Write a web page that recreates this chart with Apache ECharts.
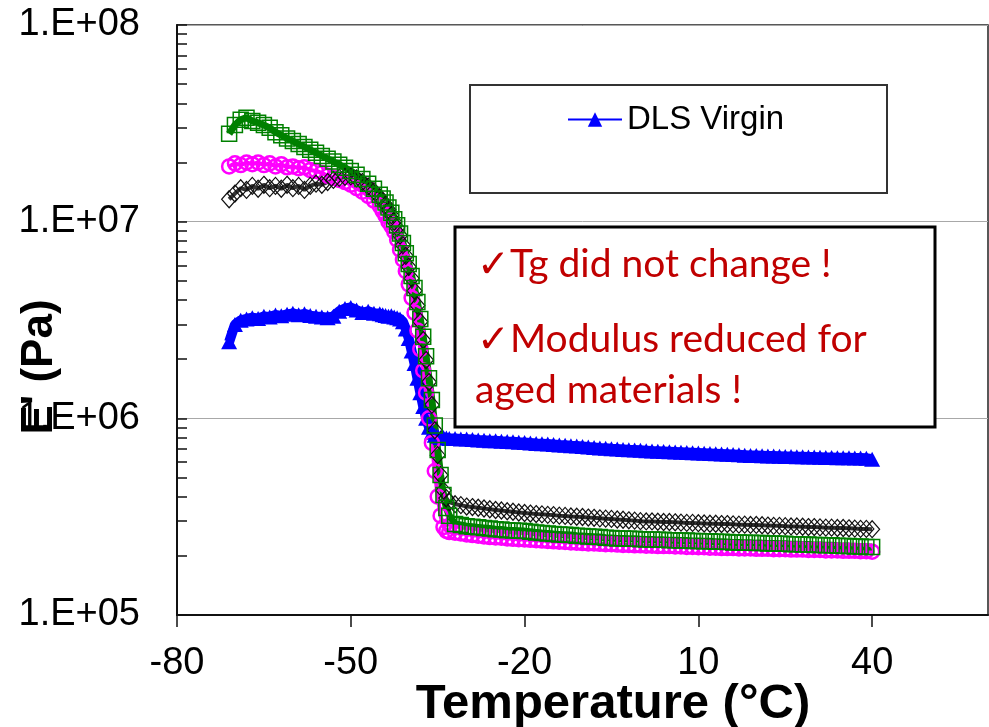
<!DOCTYPE html>
<html>
<head>
<meta charset="utf-8">
<script src="https://cdn.jsdelivr.net/npm/echarts@6/dist/echarts.min.js"></script>
<style>
  html, body { margin: 0; padding: 0; background: #fff; }
  #main { width: 989px; height: 727px; }
</style>
</head>
<body>
<div id="main"></div>
<script>
// ---------------- DATA ----------------
// Temperature (°C) sampling points shared by all series
const temps = [
  -71,-70,-69,-68,-67,-66,-65,-64,-63,-62,
  -61,-60,-59,-58,-57,-56,-55,-54,-53,-52,
  -51,-50,-49,-48,-47,-46,-45,
  -44.5,-44,-43.5,-43,-42.5,-42,-41.5,-41,-40.5,-40,
  -39.5,-39,-38.5,-38,-37.5,-37,-36.5,-36,-35.5,-35,
  -34.5,-34,-33.5,-33,
  -32,-31,-30,-29,-28,-27,-26,-25,-24,-23,
  -22,-21,-20,-19,-18,-17,-16,-15,-14,-13,
  -12,-11,-10,-9,-8,-7,-6,-5,-4,-3,
  -2,-1,0,1,2,3,4,5,6,7,
  8,9,10,11,12,13,14,15,16,17,
  18,19,20,21,22,23,24,25,26,27,
  28,29,30,31,32,33,34,35,36,37,
  38,39,40
];

// E' (Pa) – DLS Virgin (blue triangles)
const dlsVirgin = [
  2.45e6,3.0e6,3.15e6,3.2e6,3.25e6,3.22e6,3.3e6,3.28e6,3.35e6,3.32e6,
  3.38e6,3.42e6,3.36e6,3.4e6,3.33e6,3.3e6,3.28e6,3.25e6,3.3e6,3.5e6,
  3.62e6,3.66e6,3.55e6,3.45e6,3.5e6,3.42e6,3.4e6,
  3.36e6,3.33e6,3.3e6,3.32e6,3.28e6,3.25e6,3.2e6,3.1e6,2.85e6,2.55e6,
  2.2e6,1.9e6,1.6e6,1.35e6,1.15e6,1.0e6,9.0e5,8.5e5,8.2e5,8.1e5,
  8.0e5,8.0e5,7.95e5,7.9e5,
  7.9e5,7.86e5,7.84e5,7.8e5,7.76e5,7.74e5,7.7e5,7.69e5,7.65e5,7.62e5,
  7.6e5,7.55e5,7.53e5,7.5e5,7.45e5,7.43e5,7.4e5,7.36e5,7.32e5,7.3e5,
  7.25e5,7.23e5,7.2e5,7.15e5,7.11e5,7.06e5,7.05e5,7.0e5,6.98e5,6.95e5,
  6.92e5,6.9e5,6.88e5,6.85e5,6.82e5,6.8e5,6.78e5,6.76e5,6.74e5,6.72e5,
  6.7e5,6.68e5,6.66e5,6.64e5,6.62e5,6.6e5,6.58e5,6.56e5,6.54e5,6.52e5,
  6.5e5,6.48e5,6.47e5,6.46e5,6.44e5,6.43e5,6.42e5,6.4e5,6.39e5,6.38e5,
  6.37e5,6.36e5,6.35e5,6.34e5,6.33e5,6.32e5,6.31e5,6.3e5,6.3e5,6.29e5,
  6.28e5,6.27e5,6.2e5
];

// Aged sample (magenta circles)
const agedMagenta = [
  1.91e7,1.98e7,1.94e7,2.0e7,1.96e7,2.0e7,1.94e7,1.98e7,1.91e7,1.96e7,
  1.89e7,1.91e7,1.87e7,1.89e7,1.83e7,1.81e7,1.77e7,1.71e7,1.67e7,1.63e7,
  1.59e7,1.54e7,1.48e7,1.42e7,1.35e7,1.28e7,1.2e7,
  1.13e7,1.07e7,1.0e7,9.5e6,8.9e6,8.1e6,7.2e6,6.4e6,5.6e6,4.8e6,
  4.1e6,3.45e6,2.8e6,2.25e6,1.75e6,1.35e6,1.0e6,7.5e5,5.4e5,4.0e5,
  3.2e5,2.8e5,2.68e5,2.64e5,
  2.62e5,2.6e5,2.57e5,2.55e5,2.53e5,2.51e5,2.49e5,2.48e5,2.47e5,2.45e5,
  2.44e5,2.43e5,2.42e5,2.41e5,2.4e5,2.39e5,2.38e5,2.37e5,2.36e5,2.35e5,
  2.34e5,2.33e5,2.32e5,2.31e5,2.31e5,2.3e5,2.29e5,2.29e5,2.28e5,2.27e5,
  2.27e5,2.26e5,2.26e5,2.25e5,2.25e5,2.24e5,2.24e5,2.24e5,2.23e5,2.23e5,
  2.22e5,2.22e5,2.21e5,2.21e5,2.2e5,2.2e5,2.19e5,2.19e5,2.19e5,2.18e5,
  2.18e5,2.18e5,2.17e5,2.17e5,2.17e5,2.16e5,2.16e5,2.16e5,2.15e5,2.15e5,
  2.15e5,2.14e5,2.14e5,2.14e5,2.13e5,2.13e5,2.13e5,2.12e5,2.12e5,2.12e5,
  2.11e5,2.11e5,2.1e5
];

// Aged sample (black diamonds)
const agedBlack = [
  1.3e7,1.39e7,1.48e7,1.45e7,1.52e7,1.47e7,1.54e7,1.48e7,1.52e7,1.47e7,
  1.54e7,1.48e7,1.52e7,1.45e7,1.52e7,1.56e7,1.54e7,1.59e7,1.63e7,1.67e7,
  1.69e7,1.7e7,1.66e7,1.59e7,1.51e7,1.43e7,1.33e7,
  1.27e7,1.22e7,1.15e7,1.08e7,1.0e7,9.3e6,8.5e6,7.6e6,6.7e6,5.9e6,
  5.15e6,4.45e6,3.75e6,3.1e6,2.5e6,1.98e6,1.53e6,1.17e6,8.7e5,6.5e5,
  5.15e5,4.3e5,3.93e5,3.75e5,
  3.66e5,3.62e5,3.56e5,3.54e5,3.51e5,3.48e5,3.45e5,3.42e5,3.4e5,3.37e5,
  3.35e5,3.32e5,3.3e5,3.28e5,3.26e5,3.25e5,3.23e5,3.22e5,3.2e5,3.19e5,
  3.17e5,3.16e5,3.15e5,3.13e5,3.12e5,3.1e5,3.09e5,3.08e5,3.06e5,3.05e5,
  3.03e5,3.02e5,3.0e5,2.99e5,2.99e5,2.98e5,2.97e5,2.97e5,2.96e5,2.95e5,
  2.94e5,2.94e5,2.93e5,2.92e5,2.91e5,2.91e5,2.9e5,2.9e5,2.89e5,2.88e5,
  2.88e5,2.87e5,2.87e5,2.86e5,2.85e5,2.84e5,2.84e5,2.83e5,2.82e5,2.82e5,
  2.81e5,2.8e5,2.8e5,2.79e5,2.78e5,2.78e5,2.77e5,2.77e5,2.76e5,2.75e5,
  2.74e5,2.74e5,2.73e5
];

// Aged sample (green squares)
const agedGreen = [
  2.8e7,3.1e7,3.3e7,3.38e7,3.25e7,3.18e7,3.1e7,3.0e7,2.85e7,2.75e7,
  2.65e7,2.57e7,2.48e7,2.4e7,2.32e7,2.24e7,2.16e7,2.09e7,2.02e7,1.95e7,
  1.88e7,1.81e7,1.73e7,1.65e7,1.56e7,1.47e7,1.37e7,
  1.31e7,1.25e7,1.18e7,1.11e7,1.03e7,9.6e6,8.7e6,7.8e6,6.9e6,6.1e6,
  5.3e6,4.6e6,3.9e6,3.2e6,2.6e6,2.07e6,1.6e6,1.24e6,9.2e5,6.9e5,
  5.15e5,4.07e5,3.5e5,3.2e5,
  2.9e5,2.87e5,2.83e5,2.81e5,2.79e5,2.77e5,2.75e5,2.73e5,2.72e5,2.7e5,
  2.69e5,2.68e5,2.67e5,2.65e5,2.63e5,2.61e5,2.6e5,2.58e5,2.57e5,2.56e5,
  2.55e5,2.53e5,2.52e5,2.51e5,2.5e5,2.49e5,2.47e5,2.46e5,2.45e5,2.45e5,
  2.44e5,2.44e5,2.43e5,2.42e5,2.42e5,2.41e5,2.41e5,2.4e5,2.4e5,2.39e5,
  2.39e5,2.38e5,2.38e5,2.37e5,2.37e5,2.36e5,2.36e5,2.35e5,2.34e5,2.34e5,
  2.33e5,2.33e5,2.32e5,2.32e5,2.31e5,2.31e5,2.3e5,2.3e5,2.29e5,2.29e5,
  2.28e5,2.28e5,2.27e5,2.27e5,2.26e5,2.26e5,2.25e5,2.24e5,2.24e5,2.23e5,
  2.23e5,2.22e5,2.22e5
];

// Axis ticks / labels
const xTickValues = [-80, -50, -20, 10, 40];
const yTickValues = [1e5, 1e6, 1e7, 1e8];
const yTickLabels = ['1.E+05', '1.E+06', '1.E+07', '1.E+08'];
const yAllTicks = [
  1e5,2e5,3e5,4e5,5e5,6e5,7e5,8e5,9e5,
  1e6,2e6,3e6,4e6,5e6,6e6,7e6,8e6,9e6,
  1e7,2e7,3e7,4e7,5e7,6e7,7e7,8e7,9e7,
  1e8
];

const legendNames = ['DLS Virgin'];
const xTitle = 'Temperature (\u00B0C)';
const yTitle = "E' (Pa)";
const noteLines = ['\u2713Tg did not change !', '\u2713Modulus reduced for', 'aged materials !'];

// ---------------- CHART ----------------
function pairs(ys) { return temps.map((t, i) => [t, ys[i]]); }

const chart = echarts.init(document.getElementById('main'), null, { renderer: 'canvas' });
const AX_FONT = 'Liberation Sans, Arial, sans-serif';
const NOTE_FONT = '39px Lato, "Open Sans", sans-serif';

chart.setOption({
  animation: false,
  backgroundColor: '#ffffff',
  grid: {
    left: 177, right: 1, top: 25, bottom: 112,
    show: true, borderColor: '#222', borderWidth: 1.5, backgroundColor: 'transparent'
  },
  legend: {
    data: legendNames,
    left: 567, top: 103, padding: 0,
    itemWidth: 54, itemHeight: 18, itemGap: 10,
    textStyle: { fontSize: 33, fontFamily: AX_FONT, color: '#000' },
    itemStyle: { color: '#0000ff' },
    lineStyle: { color: '#0000ff', width: 2 },
    z: 120
  },
  xAxis: {
    type: 'value', min: -80, max: 60, interval: 30,
    axisLine: { show: true, onZero: false, lineStyle: { color: '#111', width: 2 } },
    axisTick: { show: true, inside: false, length: 12, lineStyle: { color: '#111', width: 1.5 } },
    axisLabel: {
      fontSize: 38, fontFamily: AX_FONT, color: '#000', margin: 30,
      showMaxLabel: false,
      formatter: v => (xTickValues.indexOf(v) >= 0 ? String(v) : '')
    },
    splitLine: { show: false }
  },
  yAxis: [
    {
      type: 'log', logBase: 10, min: 1e5, max: 1e8, position: 'left',
      axisLine: { show: true, onZero: false, lineStyle: { color: '#111', width: 2 } },
      axisTick: { show: true, inside: true, length: 10, customValues: yAllTicks, lineStyle: { color: '#111', width: 1.5 } },
      axisLabel: {
        fontSize: 38, fontFamily: AX_FONT, color: '#000', margin: 37,
        customValues: yTickValues,
        formatter: v => {
          const i = yTickValues.findIndex(t => Math.abs(Math.log10(t) - Math.log10(v)) < 1e-6);
          return i >= 0 ? yTickLabels[i] : '';
        }
      },
      splitLine: { show: false }
    },
    {
      // gridlines only, at the major decades
      type: 'log', logBase: 10, min: 1e5, max: 1e8, position: 'right',
      axisLine: { show: false, onZero: false },
      axisTick: { show: false },
      axisLabel: { show: false },
      splitLine: { show: true, lineStyle: { color: '#a8a8a8', width: 1 } }
    }
  ],
  series: [
    {
      name: 'DLS Virgin', type: 'line', data: pairs(dlsVirgin),
      symbol: 'triangle', symbolSize: [16, 15], showAllSymbol: true,
      itemStyle: { color: '#0000ff' },
      lineStyle: { color: '#0000ff', width: 10 }
    },
    {
      name: 'Aged (magenta)', type: 'line', data: pairs(agedMagenta),
      symbol: 'circle', symbolSize: 14, showAllSymbol: true,
      itemStyle: { color: 'rgba(255,255,255,0)', borderColor: '#ff00ff', borderWidth: 2.5 },
      lineStyle: { color: '#ff00ff', width: 4 }
    },
    {
      name: 'Aged (black)', type: 'line', data: pairs(agedBlack),
      symbol: 'diamond', symbolSize: [15, 17], showAllSymbol: true,
      itemStyle: { color: 'rgba(255,255,255,0)', borderColor: '#111111', borderWidth: 1.2 },
      lineStyle: { color: '#333333', width: 4 }
    },
    {
      name: 'Aged (green)', type: 'line', data: pairs(agedGreen),
      symbol: 'rect', symbolSize: 15, showAllSymbol: true,
      itemStyle: { color: 'rgba(255,255,255,0)', borderColor: '#008000', borderWidth: 1.5 },
      lineStyle: { color: '#008000', width: 7 }
    }
  ],
  graphic: [
    // legend frame
    { type: 'rect', z: 100, shape: { x: 470, y: 85, width: 417, height: 108 },
      style: { fill: '#fff', stroke: '#333', lineWidth: 2 } },
    // note frame
    { type: 'rect', z: 100, shape: { x: 455, y: 227, width: 480, height: 200 },
      style: { fill: '#fff', stroke: '#000', lineWidth: 3 } },
    { type: 'text', z: 110, x: 477, y: 264,
      style: { text: noteLines[0], font: NOTE_FONT, fill: '#c00000', align: 'left', verticalAlign: 'middle' } },
    { type: 'text', z: 110, x: 477, y: 339,
      style: { text: noteLines[1], font: NOTE_FONT, fill: '#c00000', align: 'left', verticalAlign: 'middle' } },
    { type: 'text', z: 110, x: 475, y: 390,
      style: { text: noteLines[2], font: NOTE_FONT, fill: '#c00000', align: 'left', verticalAlign: 'middle' } },
    // axis titles
    { type: 'text', z: 110, x: 613, y: 704,
      style: { text: xTitle, font: 'bold 49px "Liberation Sans", Arial, sans-serif', fill: '#000', align: 'center', verticalAlign: 'middle' } },
    { type: 'text', z: 110, x: 40, y: 367, rotation: Math.PI / 2,
      style: { text: yTitle, font: 'bold 44px "Liberation Sans", Arial, sans-serif', fill: '#000', align: 'center', verticalAlign: 'middle' } }
  ]
});
</script>
</body>
</html>
